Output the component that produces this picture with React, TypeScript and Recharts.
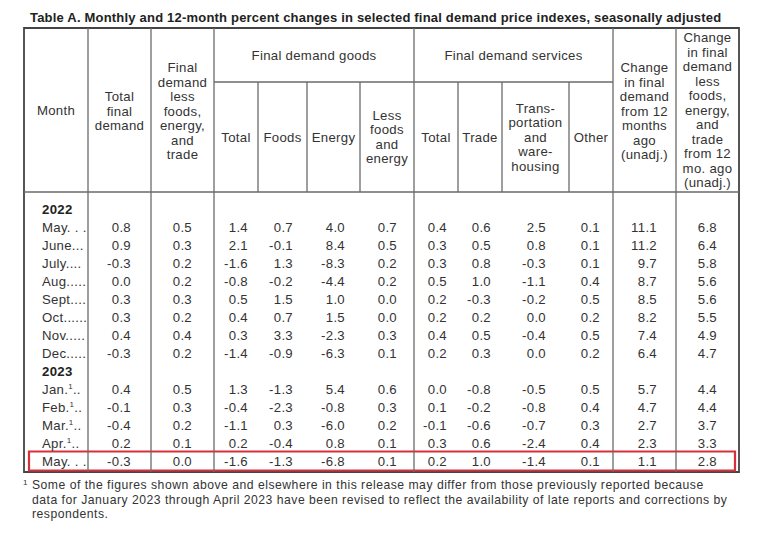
import React from "react";
import { ScatterChart, Scatter, XAxis, YAxis, ReferenceLine, ReferenceArea } from "recharts";

const FONT = '"Liberation Sans", Arial, Helvetica, sans-serif';
const TEXT = "#333";
const RULE = "#6a6a6a";
const FRAME = "#444";
const FS = 13.2;
const LS = 0.3;

// ---- data ----
const rowLabels = ["2022", "May", "June", "July", "Aug.", "Sept.", "Oct.", "Nov.", "Dec.", "2023", "Jan.", "Feb.", "Mar.", "Apr.", "May"];
const leaders = ["", ". . .", "...", "....", "....", "...", ".....", "....", "....", "", "..", "..", "..", "..", ". . ."];
const revised = [false, false, false, false, false, false, false, false, false, false, true, true, true, true, false];

const totalFinal = [null, 0.8, 0.9, -0.3, 0.0, 0.3, 0.3, 0.4, -0.3, null, 0.4, -0.1, -0.4, 0.2, -0.3];
const lessFoodsEnergyTrade = [null, 0.5, 0.3, 0.2, 0.2, 0.3, 0.2, 0.4, 0.2, null, 0.5, 0.3, 0.2, 0.1, 0.0];
const goodsTotal = [null, 1.4, 2.1, -1.6, -0.8, 0.5, 0.4, 0.3, -1.4, null, 1.3, -0.4, -1.1, 0.2, -1.6];
const goodsFoods = [null, 0.7, -0.1, 1.3, -0.2, 1.5, 0.7, 3.3, -0.9, null, -1.3, -2.3, 0.3, -0.4, -1.3];
const goodsEnergy = [null, 4.0, 8.4, -8.3, -4.4, 1.0, 1.5, -2.3, -6.3, null, 5.4, -0.8, -6.0, 0.8, -6.8];
const goodsLessFoodsEnergy = [null, 0.7, 0.5, 0.2, 0.2, 0.0, 0.0, 0.3, 0.1, null, 0.6, 0.3, 0.2, 0.1, 0.1];
const servicesTotal = [null, 0.4, 0.3, 0.3, 0.5, 0.2, 0.2, 0.4, 0.2, null, 0.0, 0.1, -0.1, 0.3, 0.2];
const servicesTrade = [null, 0.6, 0.5, 0.8, 1.0, -0.3, 0.2, 0.5, 0.3, null, -0.8, -0.2, -0.6, 0.6, 1.0];
const servicesTransport = [null, 2.5, 0.8, -0.3, -1.1, -0.2, 0.0, -0.4, 0.0, null, -0.5, -0.8, -0.7, -2.4, -1.4];
const servicesOther = [null, 0.1, 0.1, 0.1, 0.4, 0.5, 0.2, 0.5, 0.2, null, 0.5, 0.4, 0.3, 0.4, 0.1];
const change12Months = [null, 11.1, 11.2, 9.7, 8.7, 8.5, 8.2, 7.4, 6.4, null, 5.7, 4.7, 2.7, 2.3, 1.1];
const changeLess12Months = [null, 6.8, 6.4, 5.8, 5.6, 5.6, 5.5, 4.9, 4.7, null, 4.4, 4.4, 3.7, 3.3, 2.8];

const valueColumns = [
  totalFinal, lessFoodsEnergyTrade, goodsTotal, goodsFoods, goodsEnergy, goodsLessFoodsEnergy,
  servicesTotal, servicesTrade, servicesTransport, servicesOther, change12Months, changeLess12Months,
];

const headerTexts = [
  ["Month"],
  ["Total", "final", "demand"],
  ["Final", "demand", "less", "foods,", "energy,", "and", "trade"],
  ["Total"],
  ["Foods"],
  ["Energy"],
  ["Less", "foods", "and", "energy"],
  ["Total"],
  ["Trade"],
  ["Trans-", "portation", "and", "ware-", "housing"],
  ["Other"],
  ["Change", "in final", "demand", "from 12", "months", "ago", "(unadj.)"],
  ["Change", "in final", "demand", "less", "foods,", "energy,", "and", "trade", "from 12", "mo. ago", "(unadj.)"],
];
const groupTexts = ["Final demand goods", "Final demand services"];

const title = "Table A. Monthly and 12-month percent changes in selected final demand price indexes, seasonally adjusted";
const footnote = [
  "Some of the figures shown above and elsewhere in this release may differ from those previously reported because",
  "data for January 2023 through April 2023 have been revised to reflect the availability of late reports and corrections by",
  "respondents.",
];

// ---- layout (table units: px from table's top-left) ----
const TABLE_W = 715;
const TABLE_H = 444;
const colWidths = [64, 63, 63, 44, 49, 53, 54, 44, 44, 67, 44, 63, 63];
const valuePad = [20, 22, 10, 14, 15, 17, 11, 11, 23, 13, 19, 22];
const edges = colWidths.reduce((acc, w) => [...acc, acc[acc.length - 1] + w], [0] as number[]);
const GROUP_LINE = 54;
const HEAD_BOTTOM = 164;
const ROW0 = 181;
const ROW_H = 18;
const LINE_H = 14.5;
const headerCenterY = [82, 83, 83, 109, 109, 109, 109, 109, 109, 109, 109, 83, 82];
const groupCenterY = 27;

const rowY = (i: number) => ROW0 + i * ROW_H;

const monthData = rowLabels.map((label, i) => ({
  x: 18, y: rowY(i), label, lead: leaders[i], sup: revised[i], year: leaders[i] === "",
}));

const valueData = valueColumns.map((vals, c) =>
  vals
    .map((v, i) => (v === null ? null : { x: edges[c + 2] - valuePad[c], y: rowY(i), label: v.toFixed(1) }))
    .filter(Boolean)
);

const headerData = headerTexts.map((lines, c) => ({
  x: (edges[c] + edges[c + 1]) / 2, y: headerCenterY[c], lines,
}));
const groupData = [
  { x: (edges[3] + edges[7]) / 2, y: groupCenterY, lines: [groupTexts[0]] },
  { x: (edges[7] + edges[11]) / 2, y: groupCenterY, lines: [groupTexts[1]] },
];

const ValueCell = (p: any) => (
  <text x={p.cx} y={p.cy} dy={4.7} textAnchor="end" fontSize={FS} letterSpacing={LS} fill={TEXT} fontFamily={FONT}>
    {p.payload.label}
  </text>
);

const MonthCell = (p: any) => {
  const d = p.payload;
  if (d.year) {
    return (
      <text x={p.cx} y={p.cy} dy={4.7} fontSize={FS} letterSpacing={LS} fontWeight="bold" fill="#222" fontFamily={FONT}>
        {d.label}
      </text>
    );
  }
  return (
    <text x={p.cx} y={p.cy} dy={4.7} fontSize={FS} letterSpacing={LS} fill={TEXT} fontFamily={FONT}>
      {d.label}
      {d.sup && <tspan fontSize={8} dy={-5}>1</tspan>}
      {d.sup ? <tspan dy={5}>{d.lead}</tspan> : d.lead}
    </text>
  );
};

const HeaderCell = (p: any) => {
  const lines: string[] = p.payload.lines;
  const start = -((lines.length - 1) / 2) * LINE_H;
  return (
    <text x={p.cx} y={p.cy + start + 4.7} textAnchor="middle" fontSize={FS} letterSpacing={LS} fill={TEXT} fontFamily={FONT}>
      {lines.map((l, i) => (
        <tspan key={i} x={p.cx} dy={i === 0 ? 0 : LINE_H}>
          {l}
        </tspan>
      ))}
    </text>
  );
};

const fullLines = [1, 2, 3, 7, 11, 12];
const headLines = [4, 5, 6, 8, 9, 10];

export default function App() {
  return (
    <div style={{ position: "absolute", left: 0, top: 0, width: 760, height: 536, background: "#fff", fontFamily: FONT }}>
      <div
        style={{
          position: "absolute", left: 30, top: 10, fontSize: 13, letterSpacing: 0.2, fontWeight: "bold", color: "#222",
          whiteSpace: "nowrap", lineHeight: "16px",
        }}
      >
        {title}
      </div>
      <ScatterChart width={760} height={536} margin={{ top: 28, right: 21, bottom: 64, left: 24 }}>
        <XAxis type="number" dataKey="x" domain={[0, TABLE_W]} allowDataOverflow hide />
        <YAxis type="number" dataKey="y" domain={[0, TABLE_H]} allowDataOverflow reversed hide />
        {fullLines.map((c) => (
          <ReferenceLine key={"f" + c} segment={[{ x: edges[c], y: 0 }, { x: edges[c], y: TABLE_H }]} stroke={RULE} strokeWidth={1.3} ifOverflow="visible" />
        ))}
        {headLines.map((c) => (
          <ReferenceLine key={"h" + c} segment={[{ x: edges[c], y: GROUP_LINE }, { x: edges[c], y: HEAD_BOTTOM }]} stroke={RULE} strokeWidth={1.3} ifOverflow="visible" />
        ))}
        <ReferenceLine segment={[{ x: edges[3], y: GROUP_LINE }, { x: edges[11], y: GROUP_LINE }]} stroke={RULE} strokeWidth={1.3} ifOverflow="visible" />
        <ReferenceLine segment={[{ x: 0, y: HEAD_BOTTOM }, { x: TABLE_W, y: HEAD_BOTTOM }]} stroke={RULE} strokeWidth={1.3} ifOverflow="visible" />
        <ReferenceArea x1={0} x2={TABLE_W} y1={0} y2={TABLE_H} fill="none" stroke={FRAME} strokeWidth={1.8} ifOverflow="visible" />
        <Scatter data={headerData} shape={HeaderCell} isAnimationActive={false} />
        <Scatter data={groupData} shape={HeaderCell} isAnimationActive={false} />
        <Scatter data={monthData} shape={MonthCell} isAnimationActive={false} />
        {valueData.map((d, c) => (
          <Scatter key={c} data={d as any[]} shape={ValueCell} isAnimationActive={false} />
        ))}
        <ReferenceArea
          x1={5}
          x2={711}
          y1={rowY(14) - 9.5}
          y2={rowY(14) + 9.5}
          fill="none"
          stroke="#d6303c"
          strokeWidth={2.2}
          ifOverflow="visible"
        />
      </ScatterChart>
      <div
        style={{
          position: "absolute", left: 23, top: 479, fontSize: 12.2, letterSpacing: 0.5, lineHeight: "13.8px",
          color: "#333", whiteSpace: "nowrap",
        }}
      >
        <span style={{ fontSize: 8, position: "relative", top: -4, marginRight: 4 }}>1</span>
        {footnote[0]}
        <div style={{ paddingLeft: 9 }}>{footnote[1]}</div>
        <div style={{ paddingLeft: 9 }}>{footnote[2]}</div>
      </div>
    </div>
  );
}
